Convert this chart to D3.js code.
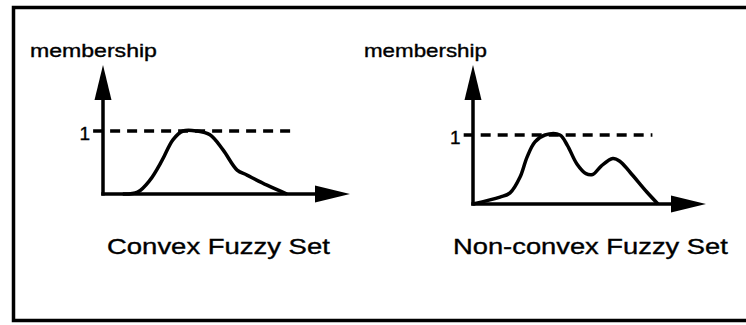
<!DOCTYPE html>
<html>
<head>
<meta charset="utf-8">
<script src="https://cdn.jsdelivr.net/npm/d3@7"></script>
<style>
  html, body { margin: 0; padding: 0; background: #fff; }
  svg { display: block; }
  text { font-family: "Liberation Sans", Arial, Helvetica, sans-serif; fill: #000; }
</style>
</head>
<body>
<div id="chart"></div>
<script>
// membership curves, x in arbitrary units 0..100, y = membership 0..1
const convexX = [8, 14, 19, 24, 28.3, 32.4, 38, 43.3, 48.6, 54.3, 58.3, 66.4, 74.5];
const convexY = [0, 0.03, 0.22, 0.54, 0.86, 1.0, 1.0, 0.94, 0.70, 0.38, 0.30, 0.14, 0];

const nonConvexX = [0, 11.6, 15.9, 20.2, 23.2, 26.6, 30.9, 37.3, 40.5, 44.6, 48.5, 51.5, 55, 60, 63, 67.4, 74.7, 79.4];
const nonConvexY = [0, 0.10, 0.16, 0.39, 0.68, 0.90, 1.0, 1.0, 0.85, 0.58, 0.44, 0.43, 0.55, 0.66, 0.62, 0.46, 0.17, 0];

const panelTitles = ["Convex Fuzzy Set", "Non-convex Fuzzy Set"];
const axisLabel = "membership";
const tickValues = [1];
const refLineX = [-4, 77];

const width = 746, height = 325;

const svg = d3.select("#chart").append("svg")
  .attr("width", width)
  .attr("height", height);

// outer frame (right side runs off the page)
svg.append("path")
  .attr("d", `M760,7.5 H13.5 V320.5 H760`)
  .attr("fill", "none")
  .attr("stroke", "#000")
  .attr("stroke-width", 3.5);

// text squeezed/stretched horizontally to the width seen in the scan
function stretchText(sel, x, y, w, size, str) {
  const t = sel.append("text")
    .attr("font-size", size)
    .style("stroke", "#000").style("stroke-width", 0.35)
    .text(str);
  const k = w / t.node().getComputedTextLength();
  t.attr("transform", `translate(${x},${y}) scale(${k},1)`);
  return t;
}

// layout of the two panels (the scan is not quite even)
const panels = [
  { title: panelTitles[0], xs: convexX, ys: convexY,
    px: [103, 350], py: [194, 131], top: 65,
    labelX: 30, labelW: 127, titleX: 107, titleW: 223 },
  { title: panelTitles[1], xs: nonConvexX, ys: nonConvexY,
    px: [473, 706], py: [204, 135], top: 65,
    labelX: 364, labelW: 123, titleX: 453, titleW: 275 }
];

panels.forEach(p => {
  const x = d3.scaleLinear().domain([0, 100]).range(p.px);
  const y = d3.scaleLinear().domain([0, 1]).range(p.py);
  const g = svg.append("g");

  const ox = x(0), oy = y(0);
  const headLen = 35, headHalf = 8.5;

  // axes
  g.append("line")
    .attr("x1", ox).attr("y1", oy + 1.5)
    .attr("x2", ox).attr("y2", p.top + headLen - 2)
    .attr("stroke", "#000").attr("stroke-width", 3.5);
  g.append("line")
    .attr("x1", ox - 1.75).attr("y1", oy)
    .attr("x2", x(100) - headLen + 2).attr("y2", oy)
    .attr("stroke", "#000").attr("stroke-width", 3.5);

  // arrow heads
  g.append("path")
    .attr("d", `M${ox},${p.top} L${ox - headHalf},${p.top + headLen} L${ox + headHalf},${p.top + headLen} Z`)
    .attr("fill", "#000");
  const tx = x(100);
  g.append("path")
    .attr("d", `M${tx},${oy} L${tx - headLen},${oy - headHalf} L${tx - headLen},${oy + headHalf} Z`)
    .attr("fill", "#000");

  // dashed reference line at membership 1
  tickValues.forEach(v => {
    g.append("line")
      .attr("x1", x(refLineX[0])).attr("y1", y(v))
      .attr("x2", x(refLineX[1])).attr("y2", y(v))
      .attr("stroke", "#000")
      .attr("stroke-width", 3.5)
      .attr("stroke-dasharray", "10,7");
    g.append("text")
      .attr("x", x(refLineX[0]) - 3)
      .attr("y", y(v) + 9)
      .attr("text-anchor", "end")
      .attr("font-size", 19)
      .style("stroke", "#000").style("stroke-width", 0.35)
      .text(v);
  });

  // membership curve
  const line = d3.line()
    .x(d => x(d[0]))
    .y(d => y(d[1]))
    .curve(d3.curveCatmullRom.alpha(0.5));
  g.append("path")
    .datum(p.xs.map((v, i) => [v, p.ys[i]]))
    .attr("d", line)
    .attr("fill", "none")
    .attr("stroke", "#000")
    .attr("stroke-width", 3.5)
    .attr("stroke-linejoin", "round");

  // axis label
  stretchText(g, p.labelX, 57, p.labelW, 18, axisLabel);

  // panel title
  stretchText(g, p.titleX, 254, p.titleW, 22, p.title);
});
</script>
</body>
</html>
